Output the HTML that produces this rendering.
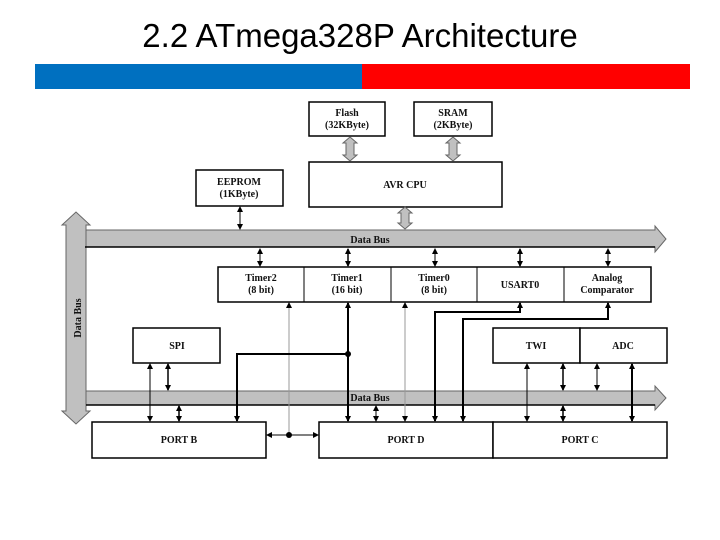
<!DOCTYPE html>
<html><head><meta charset="utf-8"><style>
body{margin:0;background:#fff;width:720px;height:540px;overflow:hidden}
svg{display:block}
text{font-family:"Liberation Serif",serif;font-weight:bold;font-size:10px;fill:#111}
.t{font-family:"Liberation Sans",sans-serif;font-weight:normal;font-size:33px;fill:#000}
</style></head><body>
<svg width="720" height="540" viewBox="0 0 720 540">
<defs>
<marker id="a" markerWidth="6" markerHeight="6" refX="5" refY="3" orient="auto-start-reverse" markerUnits="userSpaceOnUse"><path d="M0,0 L6,3 L0,6z" fill="#000"/></marker>
</defs>
<text x="360" y="47" text-anchor="middle" class="t">2.2 ATmega328P Architecture</text>
<rect x="35" y="64" width="327" height="25" fill="#0070c0"/>
<rect x="362" y="64" width="328" height="25" fill="#ff0000"/>
<g fill="#fff" stroke="#000" stroke-width="1.5">
<rect x="309" y="102" width="76" height="34"/>
<rect x="414" y="102" width="78" height="34"/>
<rect x="309" y="162" width="193" height="45"/>
<rect x="196" y="170" width="87" height="36"/>
<rect x="218" y="267" width="433" height="35"/>
<rect x="133" y="328" width="87" height="35"/>
<rect x="493" y="328" width="87" height="35"/>
<rect x="580" y="328" width="87" height="35"/>
<rect x="92" y="422" width="174" height="36"/>
<rect x="319" y="422" width="174" height="36"/>
<rect x="493" y="422" width="174" height="36"/>
</g>
<g stroke="#000" stroke-width="1"><line x1="304" y1="267" x2="304" y2="302"/><line x1="391" y1="267" x2="391" y2="302"/><line x1="477" y1="267" x2="477" y2="302"/><line x1="564" y1="267" x2="564" y2="302"/></g>
<g fill="#c0c0c0" stroke="#666" stroke-width="1">
<path d="M85,230 H655 V226 L666,239 L655,252 V247 H85 Z"/>
<path d="M86,391 H655 V386 L666,398 L655,410 V405 H86 Z"/>
<path d="M66,225 H62 L76,212 L90,225 H86 V411 H90 L76,424 L62,411 H66 Z"/>
<path d="M350,137 L357,143 H354 V155 H357 L350,161 L343,155 H346 V143 H343 Z"/>
<path d="M453,137 L460,143 H457 V155 H460 L453,161 L446,155 H449 V143 H446 Z"/>
<path d="M405,207 L412,213 H409 V223 H412 L405,229 L398,223 H401 V213 H398 Z"/>
</g>
<path d="M85,247 H655" stroke="#000" stroke-width="1.5"/>
<path d="M86,405 H655" stroke="#000" stroke-width="1.5"/>
<text x="370" y="243" text-anchor="middle">Data Bus</text>
<text x="370" y="401" text-anchor="middle">Data Bus</text>
<text transform="translate(81,318) rotate(-90)" text-anchor="middle">Data Bus</text>
<text x="347" y="116" text-anchor="middle">Flash</text><text x="347" y="128" text-anchor="middle">(32KByte)</text>
<text x="453" y="116" text-anchor="middle">SRAM</text><text x="453" y="128" text-anchor="middle">(2KByte)</text>
<text x="405" y="188" text-anchor="middle">AVR CPU</text>
<text x="239" y="185" text-anchor="middle">EEPROM</text><text x="239" y="197" text-anchor="middle">(1KByte)</text>
<text x="261" y="281" text-anchor="middle">Timer2</text><text x="261" y="293" text-anchor="middle">(8 bit)</text>
<text x="347" y="281" text-anchor="middle">Timer1</text><text x="347" y="293" text-anchor="middle">(16 bit)</text>
<text x="434" y="281" text-anchor="middle">Timer0</text><text x="434" y="293" text-anchor="middle">(8 bit)</text>
<text x="520" y="288" text-anchor="middle">USART0</text>
<text x="607" y="281" text-anchor="middle">Analog</text><text x="607" y="293" text-anchor="middle">Comparator</text>
<text x="177" y="349" text-anchor="middle">SPI</text>
<text x="536" y="349" text-anchor="middle">TWI</text>
<text x="623" y="349" text-anchor="middle">ADC</text>
<text x="179" y="443" text-anchor="middle">PORT B</text>
<text x="406" y="443" text-anchor="middle">PORT D</text>
<text x="580" y="443" text-anchor="middle">PORT C</text>
<g stroke="#000" stroke-width="1" fill="none" marker-start="url(#a)" marker-end="url(#a)">
<line x1="240" y1="207" x2="240" y2="229"/>
<line x1="260" y1="249" x2="260" y2="266"/>
<line x1="348" y1="249" x2="348" y2="266" stroke-width="1.5"/>
<line x1="435" y1="249" x2="435" y2="266"/>
<line x1="520" y1="249" x2="520" y2="266" stroke-width="1.5"/>
<line x1="608" y1="249" x2="608" y2="266"/>
<line x1="150" y1="364" x2="150" y2="421"/>
<line x1="168" y1="364" x2="168" y2="390" stroke-width="1.5"/>
<line x1="179" y1="406" x2="179" y2="421" stroke-width="1.5"/>
<line x1="376" y1="406" x2="376" y2="421"/>
<line x1="527" y1="364" x2="527" y2="421"/>
<line x1="563" y1="364" x2="563" y2="390" stroke-width="1.5"/>
<line x1="563" y1="406" x2="563" y2="421" stroke-width="1.5"/>
<line x1="597" y1="364" x2="597" y2="390"/>
<line x1="632" y1="364" x2="632" y2="421" stroke-width="2"/>
<line x1="289" y1="303" x2="289" y2="435" stroke="#999" marker-end="none"/>
<line x1="405" y1="303" x2="405" y2="421" stroke="#999"/>
<line x1="348" y1="303" x2="348" y2="421" stroke-width="2"/>
<polyline points="348,354 237,354 237,421" stroke-width="2" marker-start="none"/>
<polyline points="520,303 520,312 435,312 435,421" stroke-width="2"/>
<polyline points="608,303 608,319 463,319 463,421" stroke-width="2"/>
<line x1="267" y1="435" x2="318" y2="435"/>
</g>
<circle cx="348" cy="354" r="3"/>
<circle cx="289" cy="435" r="3"/>
</svg>
</body></html>
